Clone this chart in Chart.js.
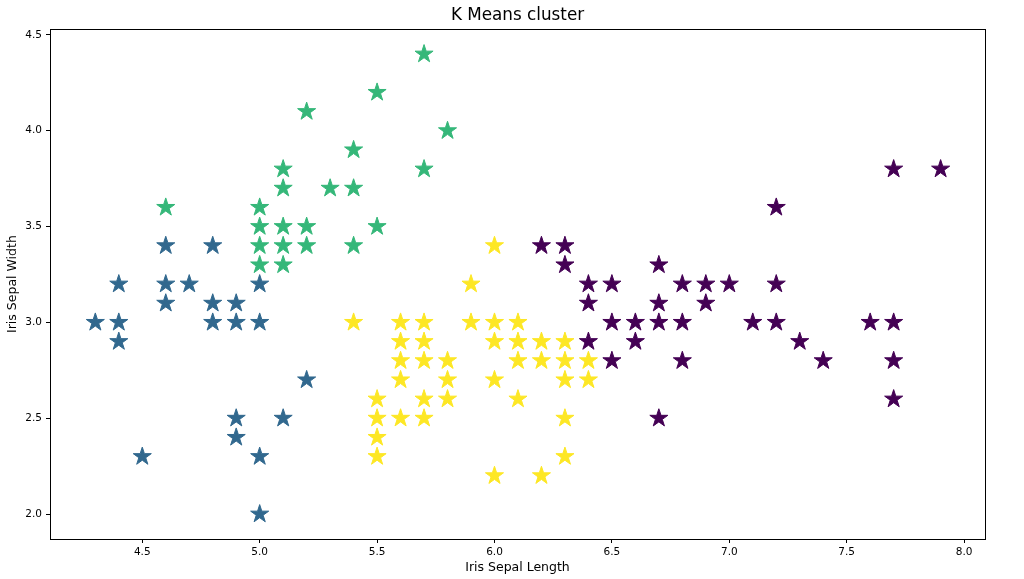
<!DOCTYPE html>
<html>
<head>
<meta charset="utf-8">
<script src="https://cdn.jsdelivr.net/npm/chart.js@4"></script>
<style>
  body { margin: 0; background: #fff; }
  #wrap { width: 1024px; height: 579px; }
</style>
</head>
<body>
<div id="wrap"><canvas id="scatterChart"></canvas></div>
<script>
// cluster 0 (purple)
const purpleX = [7.7, 7.9, 7.2, 6.2, 6.3, 6.3, 6.7,
  6.4, 6.5, 6.8, 6.9, 7.0, 7.2,
  6.4, 6.7, 6.9,
  6.5, 6.6, 6.7, 6.8, 7.1, 7.2, 7.6, 7.7,
  6.4, 6.6, 7.3,
  6.5, 6.8, 7.4, 7.7,
  7.7, 6.7]
const purpleY = [3.8, 3.8, 3.6, 3.4, 3.4, 3.3, 3.3,
  3.2, 3.2, 3.2, 3.2, 3.2, 3.2,
  3.1, 3.1, 3.1,
  3.0, 3.0, 3.0, 3.0, 3.0, 3.0, 3.0, 3.0,
  2.9, 2.9, 2.9,
  2.8, 2.8, 2.8, 2.8,
  2.6, 2.5]

// cluster 1 (blue)
const blueX = [4.6, 4.8, 4.4, 4.6, 4.7, 5.0, 4.6, 4.8, 4.9, 4.3, 4.4, 4.8, 4.9, 5.0, 4.4, 5.2, 4.9, 5.1, 4.9, 4.5, 5.0, 5.0]
const blueY = [3.4, 3.4, 3.2, 3.2, 3.2, 3.2, 3.1, 3.1, 3.1, 3.0, 3.0, 3.0, 3.0, 3.0, 2.9, 2.7, 2.5, 2.5, 2.4, 2.3, 2.3, 2.0]

// cluster 2 (green)
const greenX = [5.7, 5.5, 5.2, 5.8, 5.4, 5.1, 5.7, 5.1, 5.3, 5.4, 4.6, 5.0, 5.0, 5.1, 5.2, 5.5, 5.0, 5.1, 5.2, 5.4, 5.0, 5.1]
const greenY = [4.4, 4.2, 4.1, 4.0, 3.9, 3.8, 3.8, 3.7, 3.7, 3.7, 3.6, 3.6, 3.5, 3.5, 3.5, 3.5, 3.4, 3.4, 3.4, 3.4, 3.3, 3.3]

// cluster 3 (yellow)
const yellowX = [6.0, 5.9,
  5.4, 5.6, 5.7, 5.9, 6.0, 6.1,
  5.6, 5.7, 6.0, 6.1, 6.2, 6.3,
  5.6, 5.7, 5.8, 6.1, 6.2, 6.3, 6.4,
  5.6, 5.8, 6.0, 6.3, 6.4,
  5.5, 5.7, 5.8, 6.1,
  5.5, 5.6, 5.7, 6.3,
  5.5,
  5.5, 6.3,
  6.0, 6.2]
const yellowY = [3.4, 3.2,
  3.0, 3.0, 3.0, 3.0, 3.0, 3.0,
  2.9, 2.9, 2.9, 2.9, 2.9, 2.9,
  2.8, 2.8, 2.8, 2.8, 2.8, 2.8, 2.8,
  2.7, 2.7, 2.7, 2.7, 2.7,
  2.6, 2.6, 2.6, 2.6,
  2.5, 2.5, 2.5, 2.5,
  2.4,
  2.3, 2.3,
  2.2, 2.2]

const xTicks = [4.5, 5.0, 5.5, 6.0, 6.5, 7.0, 7.5, 8.0]
const yTicks = [2.0, 2.5, 3.0, 3.5, 4.0, 4.5]

const font = 'DejaVu Sans'

function toPoints(xs, ys) {
  return xs.map((x, i) => ({ x: x, y: ys[i] }))
}

// filled five point star like matplotlib's '*' marker, drawn at the
// positions chart.js computed for each point
function drawStar(ctx, cx, cy, r, color) {
  ctx.beginPath()
  for (let i = 0; i < 10; i++) {
    const rad = i % 2 === 0 ? r : r * 0.381966
    const a = -Math.PI / 2 + i * Math.PI / 5
    const px = cx + rad * Math.cos(a)
    const py = cy + rad * Math.sin(a)
    if (i === 0) ctx.moveTo(px, py)
    else ctx.lineTo(px, py)
  }
  ctx.closePath()
  ctx.fillStyle = color
  ctx.fill()
  ctx.strokeStyle = color
  ctx.lineWidth = 1
  ctx.stroke()
}

const stars = {
  id: 'stars',
  afterDatasetsDraw(chart) {
    const { ctx } = chart
    ctx.save()
    chart.data.datasets.forEach((ds, i) => {
      chart.getDatasetMeta(i).data.forEach(pt => {
        drawStar(ctx, pt.x, pt.y, 9.5, ds.backgroundColor)
      })
    })
    ctx.restore()
  }
}

const frame = {
  id: 'frame',
  afterDraw(chart) {
    const { ctx, chartArea: a } = chart
    ctx.save()
    ctx.strokeStyle = '#000'
    ctx.lineWidth = 1
    ctx.strokeRect(Math.round(a.left) + 0.5, Math.round(a.top) + 0.5, Math.round(a.right - a.left), Math.round(a.bottom - a.top))
    ctx.restore()
  }
}

const canvas = document.getElementById('scatterChart')
const ctx = canvas.getContext('2d')

new Chart(ctx, {
  type: 'scatter',
  data: {
    datasets: [
      { label: '0', data: toPoints(purpleX, purpleY), backgroundColor: '#440154' },
      { label: '1', data: toPoints(blueX, blueY), backgroundColor: '#31688e' },
      { label: '2', data: toPoints(greenX, greenY), backgroundColor: '#35b779' },
      { label: '3', data: toPoints(yellowX, yellowY), backgroundColor: '#fde725' }
    ]
  },
  options: {
    responsive: true,
    maintainAspectRatio: false,
    animation: false,
    elements: { point: { radius: 0, hoverRadius: 0 } },
    layout: { padding: { right: 39 } },
    plugins: {
      legend: { display: false },
      tooltip: { enabled: false },
      title: {
        display: true,
        text: 'K Means cluster',
        fullSize: false,
        color: '#000',
        font: { family: font, size: 16.8, weight: 'normal' },
        padding: { top: 6, bottom: 3 }
      }
    },
    scales: {
      x: {
        type: 'linear',
        min: 4.107,
        max: 8.089,
        afterBuildTicks: scale => { scale.ticks = xTicks.map(v => ({ value: v })) },
        afterFit: scale => { scale.height = 40 },
        ticks: {
          callback: v => v.toFixed(1),
          color: '#000',
          font: { family: font, size: 10.5 },
          padding: 3,
          maxRotation: 0
        },
        grid: { drawOnChartArea: false, drawTicks: true, tickLength: 4, color: '#000' },
        border: { display: true, color: '#000' },
        title: {
          display: true,
          text: 'Iris Sepal Length',
          color: '#000',
          font: { family: font, size: 12.5 },
          padding: { top: 0, bottom: 4 }
        }
      },
      y: {
        type: 'linear',
        min: 1.87,
        max: 4.53,
        afterBuildTicks: scale => { scale.ticks = yTicks.map(v => ({ value: v })) },
        afterFit: scale => { scale.width = 50 },
        ticks: {
          callback: v => v.toFixed(1),
          color: '#000',
          font: { family: font, size: 10.5 },
          padding: 4
        },
        grid: { drawOnChartArea: false, drawTicks: true, tickLength: 4, color: '#000' },
        border: { display: true, color: '#000' },
        title: {
          display: true,
          text: 'Iris Sepal Width',
          color: '#000',
          font: { family: font, size: 12.5 },
          padding: { top: 5, bottom: 0 }
        }
      }
    }
  },
  plugins: [stars, frame]
})
</script>
</body>
</html>
